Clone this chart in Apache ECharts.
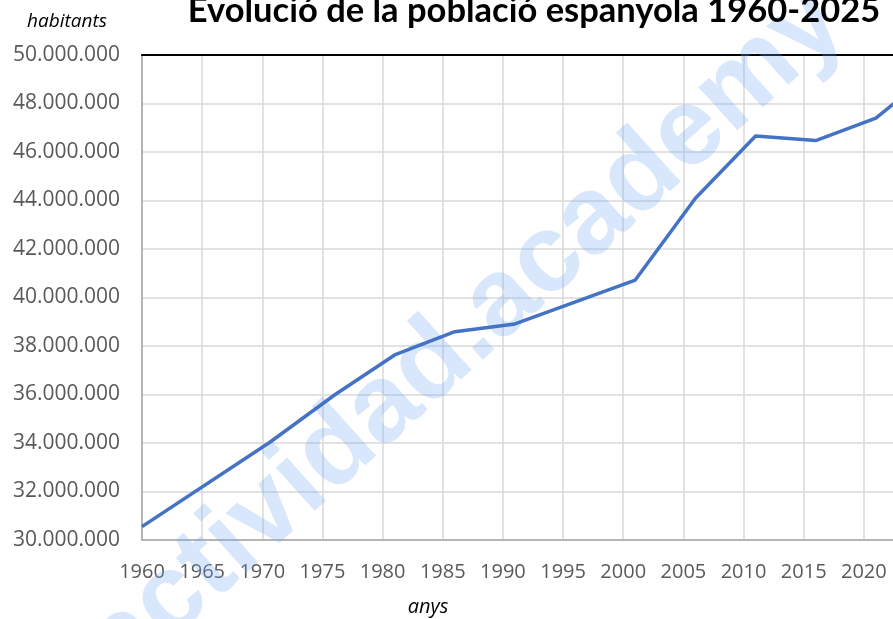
<!DOCTYPE html>
<html>
<head>
<meta charset="utf-8">
<script src="https://cdn.jsdelivr.net/npm/echarts@6/dist/echarts.min.js"></script>
<style>html,body{margin:0;padding:0;background:#fff;}#c{width:893px;height:619px;}</style>
</head>
<body>
<div id="c"></div>
<script>
const titleText = 'Evolució de la població espanyola 1960-2025';
const yAxisName = 'habitants';
const xAxisName = 'anys';
const watermark = 'actividad.academy';
const years = [1960, 1970.6, 1976, 1981, 1986, 1991, 2001, 2006, 2011, 2016, 2021, 2024];
const population = [30550000, 34020000, 35980000, 37630000, 38590000, 38910000, 40720000, 44090000, 46660000, 46470000, 47400000, 48590000];
const yMin = 30000000, yMax = 50000000, yStep = 2000000;
const xMin = 1960, xMax = 2025, xStep = 5;

const fontFam = '"Open Sans", sans-serif';
const fmt = v => String(Math.round(v)).replace(/\B(?=(\d{3})+(?!\d))/g, '.');

const chart = echarts.init(document.getElementById('c'), null, {renderer: 'canvas'});
chart.setOption({
  backgroundColor: '#ffffff',
  animation: false,
  title: {
    text: titleText,
    left: 529, textAlign: 'center', top: -12,
    textStyle: {fontFamily: 'Lato, sans-serif', fontWeight: 'bold', fontSize: 34.5, color: '#000'}
  },
  grid: {left: 142, top: 55, bottom: 79, right: -31, containLabel: false, outerBoundsMode: 'none'},
  graphic: [{
    type: 'text', z: 1, x: 466, y: 334, rotation: 42 * Math.PI / 180,
    style: {text: watermark, fill: 'rgba(110,165,240,0.27)', font: 'bold 110px "Liberation Sans", sans-serif',
            align: 'center', verticalAlign: 'middle'}
  }, {
    type: 'text', z: 2, x: 428, y: 607,
    style: {text: xAxisName, fill: '#000', font: 'italic 20px "Open Sans", sans-serif', align: 'center', verticalAlign: 'middle'}
  }],
  xAxis: [{
    type: 'value', min: xMin, max: xMax, interval: xStep,
    axisLine: {show: true, lineStyle: {color: '#a6a6a6', width: 1.5}},
    axisTick: {show: false},
    axisLabel: {fontFamily: fontFam, fontSize: 20, color: '#595959', margin: 22, formatter: v => String(v)},
    splitLine: {show: true, lineStyle: {color: '#d9d9d9', width: 1.5}}
  }, {
    type: 'value', position: 'top', min: xMin, max: xMax, interval: xStep,
    axisLine: {show: true, lineStyle: {color: '#000', width: 2}},
    axisTick: {show: false}, axisLabel: {show: false}, splitLine: {show: false}
  }],
  yAxis: {
    type: 'value', min: yMin, max: yMax, interval: yStep,
    name: yAxisName, nameLocation: 'end', nameGap: 24,
    nameTextStyle: {fontFamily: fontFam, fontStyle: 'italic', fontSize: 19, color: '#000', align: 'center', padding: [0, 0, 0, -150]},
    axisLine: {show: true, lineStyle: {color: '#a6a6a6', width: 1.5}},
    axisTick: {show: false},
    axisLabel: {fontFamily: fontFam, fontSize: 21, color: '#595959', margin: 22, formatter: fmt},
    splitLine: {show: true, lineStyle: {color: '#d9d9d9', width: 1.5}}
  },
  series: [{
    type: 'line', z: 3,
    data: years.map((y, i) => [y, population[i]]),
    showSymbol: false, symbol: 'none',
    lineStyle: {color: '#4472c4', width: 3.5},
    clip: true
  }]
});
</script>
</body>
</html>
